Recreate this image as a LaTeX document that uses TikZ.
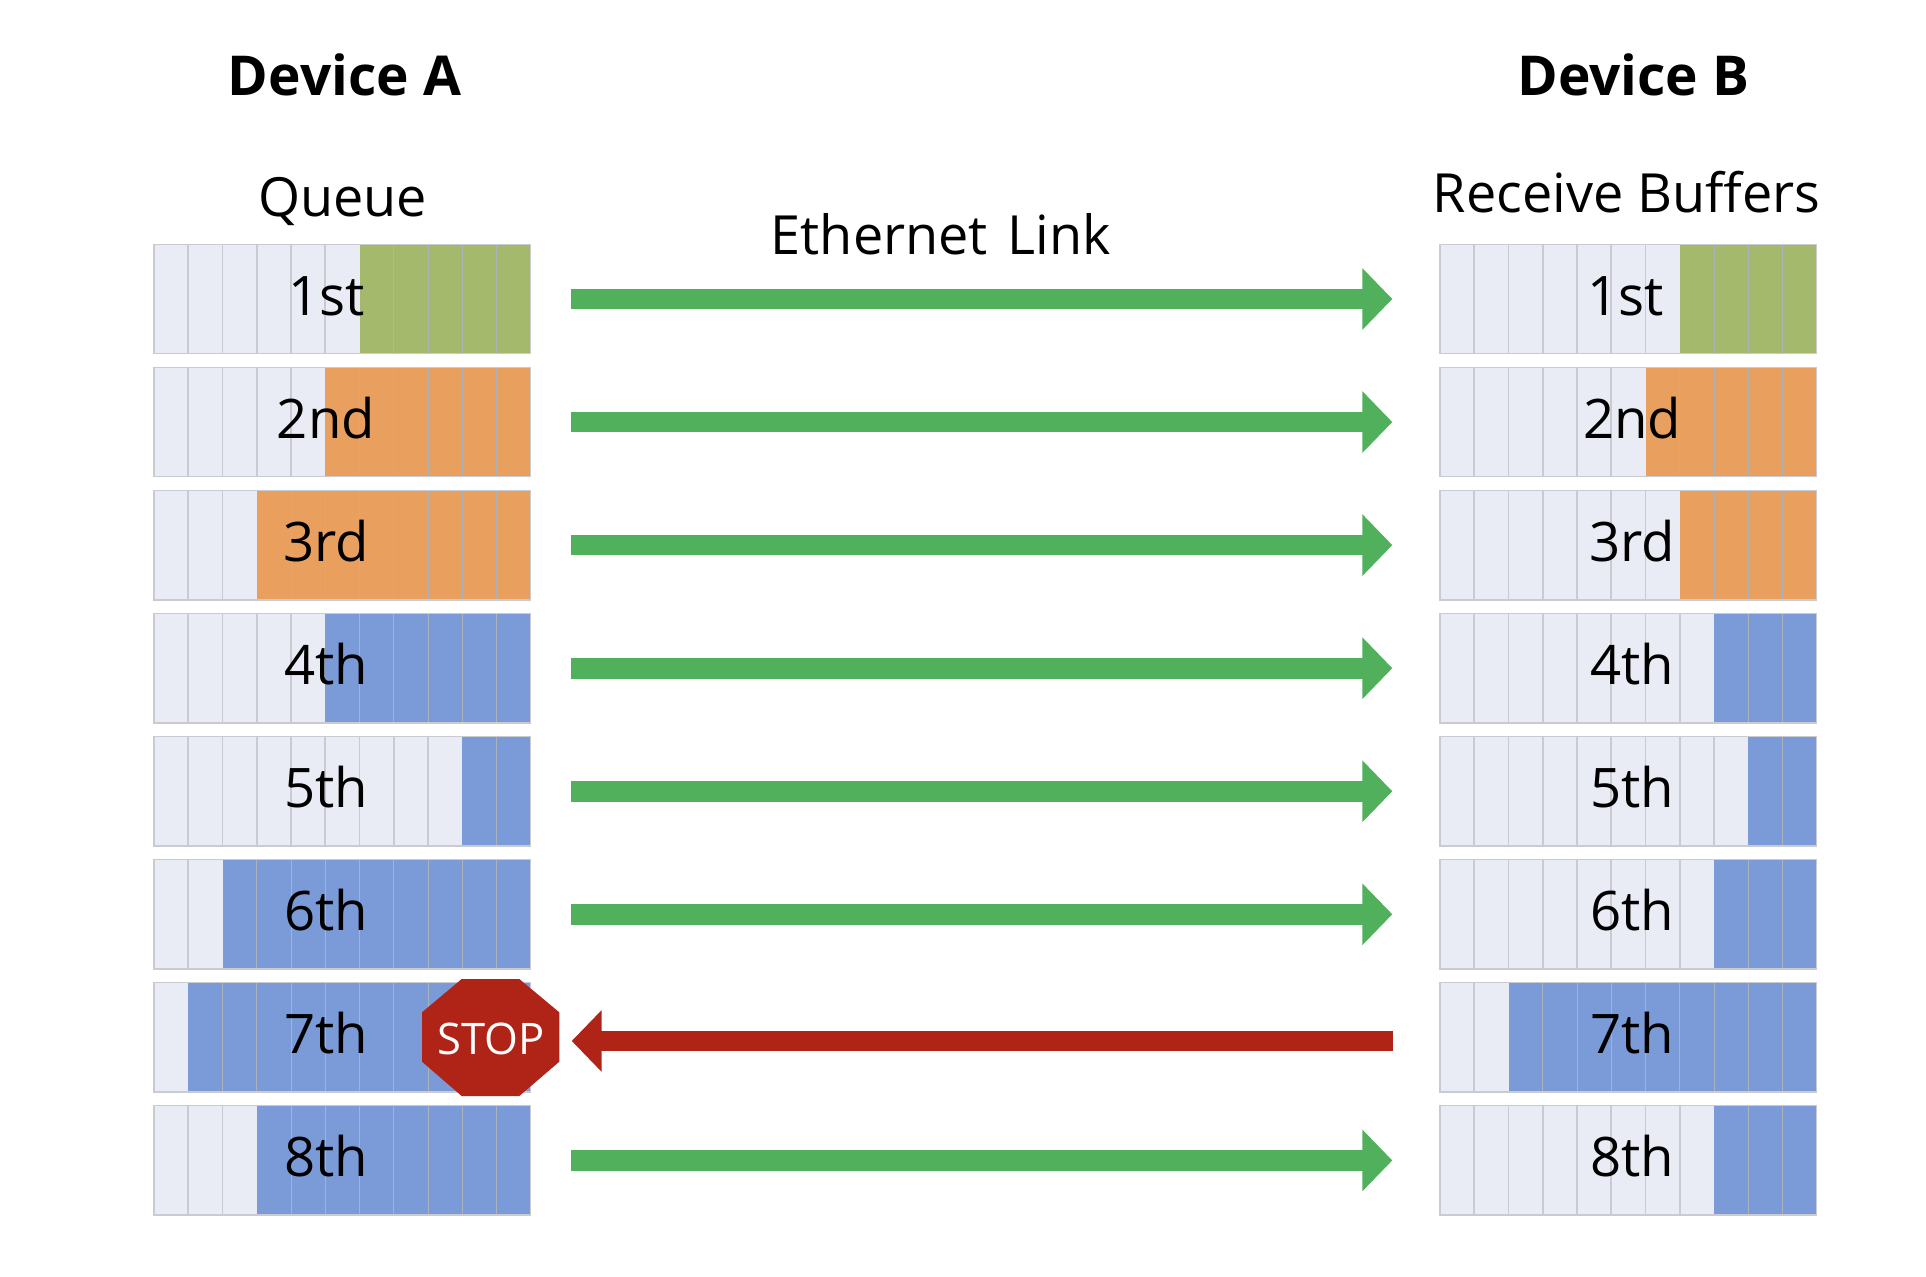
\documentclass[tikz,border=0pt]{standalone}
\usepackage{fontspec}
\setmainfont{Open Sans}
\usetikzlibrary{arrows.meta}
\definecolor{lightcell}{HTML}{E9ECF4}
\definecolor{gridlight}{HTML}{C9CBD0}
\definecolor{gridcolor}{HTML}{ACB2BC}
\definecolor{cgreen}{HTML}{A5B96C}
\definecolor{corange}{HTML}{E9A05F}
\definecolor{cblue}{HTML}{7A9BD8}
\definecolor{linkgreen}{HTML}{50B05C}
\definecolor{stopred}{HTML}{B02418}
\tikzset{
  rowbar/.style={draw=gridlight,line width=1.4pt,fill=lightcell,minimum width=376.7pt,minimum height=109.4pt,inner sep=0pt,outer sep=0pt},
  rowlabel/.style={anchor=base,inner sep=0pt,font=\fontsize{54.5}{60}\selectfont},
  headlabel/.style={anchor=base,inner sep=0pt,font=\fontsize{54}{60}\selectfont},
  devlabel/.style={anchor=base,inner sep=0pt,font=\fontsize{55}{60}\selectfont\bfseries},
  linkarrow/.style={line width=20.7pt,line cap=butt,-{Triangle[length=30pt,width=60pt]},shorten <=40.6pt,shorten >=47.7pt},
}
% \rowbar{name}{left x}{centre y}{light cells}{colour}
\newcommand{\rowbar}[5]{%
  \node[rowbar] (#1) at ({#2+188.35},#3) {};
  \fill[#5] ({#2+#4*34.25},{#3-54.7}) rectangle ({#2+376.7},{#3+54.7});
  \foreach \k in {1,...,10}{%
    \ifnum\k>#4
      \draw[gridcolor,line width=0.9pt] ({#2+\k*34.25},{#3-54.7}) -- ({#2+\k*34.25},{#3+54.7});
    \else\ifnum\k<#4
      \draw[gridlight,line width=1.6pt] ({#2+\k*34.25},{#3-54.7}) -- ({#2+\k*34.25},{#3+54.7});
    \fi\fi}%
  \draw[gridlight,line width=1.4pt] (#1.north west) rectangle (#1.south east);
}
\begin{document}
\begin{tikzpicture}[x=1pt,y=-1pt]
\useasboundingbox (0,0) rectangle (1926,1276);
\fill[white] (0,0) rectangle (1926,1276);
\node[devlabel] (devA) at (344.5,96) {Device A};
\node[devlabel] (devB) at (1633.5,96) {Device B};
\node[headlabel] (qlab) at (342.5,216) {Queue};
\node[headlabel] (rlab) at (1626.5,212) {Receive Buffers};
\node[headlabel] (elab) at (941,254) {Ethernet\hspace{6pt} Link};
% rows
\foreach \n/\la/\ca/\lb/\cb/\txt/\xa/\xb in {
  1/6/cgreen/7/cgreen/1st/326.5/1626,
  2/5/corange/6/corange/2nd/326/1632,
  3/3/corange/7/corange/3rd/326/1632,
  4/5/cblue/8/cblue/4th/326/1632,
  5/9/cblue/9/cblue/5th/326/1632,
  6/2/cblue/8/cblue/6th/326/1632,
  7/1/cblue/2/cblue/7th/326/1632,
  8/3/cblue/8/cblue/8th/326/1632}{
  \pgfmathsetmacro{\cy}{299+(\n-1)*123.06}
  \rowbar{qa\n}{154}{\cy}{\la}{\ca}
  \rowbar{rb\n}{1440}{\cy}{\lb}{\cb}
  \node[rowlabel] (ta\n) at (\xa,\cy+16) {\txt};
  \node[rowlabel] (tb\n) at (\xb,\cy+16) {\txt};
}
% links
\foreach \n in {1,2,3,4,5,6,8}{
  \draw[linkarrow,linkgreen] (qa\n.east) -- (rb\n.west);
}
\coordinate (redfrom) at ([yshift=-3.6pt]rb7.west);
\coordinate (redto) at ([yshift=-3.6pt]qa7.east);
\draw[line width=20.7pt,stopred,-{Triangle[length=30pt,width=60pt]},shorten <=47pt,shorten >=41pt] (redfrom) -- (redto);
% stop sign
\fill[stopred] (461.7,979) -- (519.3,979) -- (559.3,1012.3) -- (559.3,1061.7) -- (519.3,1096) -- (461.7,1096) -- (422,1061.7) -- (422,1012.3) -- cycle;
\node[anchor=base,inner sep=0pt,text=white,font=\fontsize{43.5}{46}\selectfont] (stoplab) at (491,1054) {STOP};
\end{tikzpicture}
\end{document}
